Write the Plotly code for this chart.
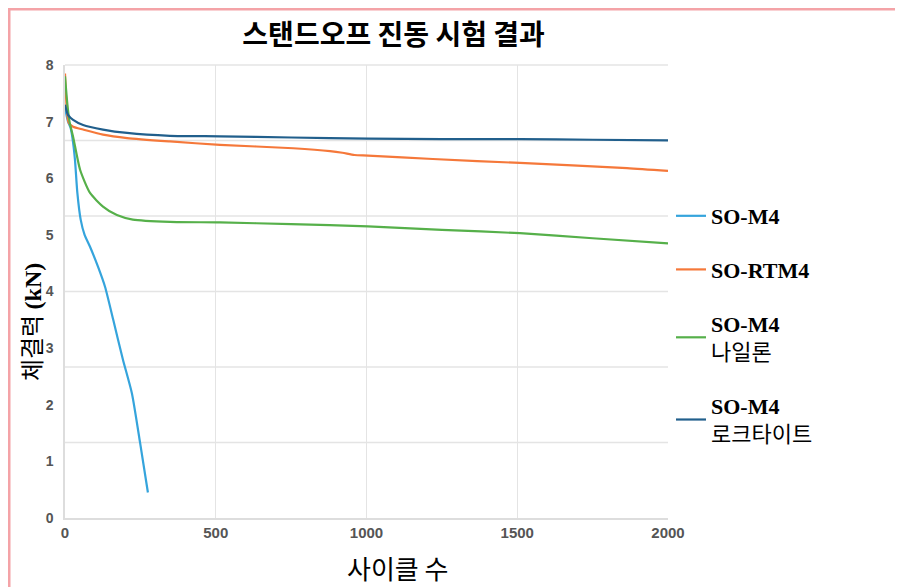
import plotly.graph_objects as go

# ---- data ----
cycles_m4 = [0, 10, 18, 25, 33, 41, 52, 65, 83, 110, 133, 160, 192, 222, 249, 275]
force_m4 = [7.25, 7.0, 6.9, 6.7, 6.33, 5.74, 5.27, 5.0, 4.79, 4.43, 4.08, 3.5, 2.8, 2.2, 1.33, 0.45]

cycles_rtm4 = [0, 5, 12, 27, 60, 126, 206, 348, 514, 757, 879, 920, 960, 1005, 1220, 1509, 1864, 2000]
force_rtm4 = [7.85, 7.3, 6.98, 6.91, 6.86, 6.77, 6.71, 6.65, 6.59, 6.53, 6.48, 6.45, 6.41, 6.40, 6.34, 6.27, 6.18, 6.13]

cycles_nylon = [0, 8, 15, 27, 50, 83, 126, 172, 225, 348, 514, 750, 1005, 1250, 1509, 1750, 2000]
force_nylon = [7.8, 7.3, 7.0, 6.73, 6.15, 5.74, 5.5, 5.35, 5.27, 5.23, 5.22, 5.19, 5.15, 5.09, 5.03, 4.94, 4.85]

cycles_loctite = [0, 10, 27, 60, 126, 206, 348, 514, 750, 1005, 1250, 1509, 1750, 2000]
force_loctite = [7.3, 7.12, 7.03, 6.94, 6.86, 6.80, 6.75, 6.74, 6.72, 6.70, 6.69, 6.69, 6.68, 6.67]

KR = "<span style='font-family:Noto Sans CJK KR'>{}</span>"
series_names = ["<b>SO-M4</b>", "<b>SO-RTM4</b>",
                "<b>SO-M4</b><br>" + KR.format("나일론"),
                "<b>SO-M4</b><br>" + KR.format("로크타이트")]
series_colors = ["#35a4dc", "#f5783a", "#56b04a", "#215f8c"]

x_ticks = [0, 500, 1000, 1500, 2000]
y_ticks = [0, 1, 2, 3, 4, 5, 6, 7, 8]
grid_divisions = 6

title_text = "스탠드오프 진동 시험 결과"
x_title = "사이클 수"
y_title = "체결력 <span style='font-family:Liberation Serif'><b>(kN)</b></span>"

series = [
    (cycles_m4, force_m4),
    (cycles_rtm4, force_rtm4),
    (cycles_nylon, force_nylon),
    (cycles_loctite, force_loctite),
]

fig = go.Figure()
for i, ((xs, ys), name, color) in enumerate(zip(series, series_names, series_colors)):
    fig.add_trace(go.Scatter(
        x=xs, y=ys, mode="lines", name=name,
        line=dict(color=color, width=2.2, shape="spline", smoothing=0.6),
        legendgroup=f"g{i}",
    ))

# horizontal grid lines (6 divisions, independent from tick labels as in original)
shapes = []
for k in range(1, grid_divisions + 1):
    shapes.append(dict(type="line", xref="x domain", yref="y domain",
                       x0=0, x1=1, y0=k / grid_divisions, y1=k / grid_divisions,
                       line=dict(color="#e4e4e4", width=1.3), layer="below"))
# pink frame lines of the original image
shapes.append(dict(type="line", xref="paper", yref="paper",
                   x0=-0.0945, x1=1.45, y0=1.1258, y1=1.1258,
                   line=dict(color="#f4a3a7", width=5)))
shapes.append(dict(type="line", xref="paper", yref="paper",
                   x0=-0.0945, x1=-0.0945, y0=1.1258, y1=-0.2,
                   line=dict(color="#f4a3a7", width=5)))

annotations = [
    dict(text=x_title, xref="paper", yref="paper", x=0.552, y=-0.11, xanchor="center",
         yanchor="middle", showarrow=False,
         font=dict(family="Noto Sans CJK KR", size=26, color="black")),
    dict(text=y_title, xref="paper", yref="paper", x=-0.056, y=0.433, xanchor="center",
         yanchor="middle", showarrow=False, textangle=-90,
         font=dict(family="Noto Sans CJK KR, Liberation Serif", size=24, color="black")),
]

fig.update_layout(
    width=903, height=587,
    margin=dict(l=57, r=243, t=57, b=77),
    paper_bgcolor="white", plot_bgcolor="white",
    title=dict(text=title_text, x=0.427, xanchor="center", y=0.953, yanchor="middle",
               font=dict(family="Noto Sans CJK KR", size=28, color="black", weight="bold")),
    showlegend=True,
    legend=dict(x=1.005, xanchor="left", y=0.713, yanchor="top",
                font=dict(family="Liberation Serif, Noto Sans CJK KR", size=22, color="black"),
                tracegroupgap=22, itemwidth=30, bgcolor="rgba(0,0,0,0)"),
    shapes=shapes,
    annotations=annotations,
    xaxis=dict(range=[0, 2000], tickvals=x_ticks, showgrid=True, gridcolor="#e4e4e4",
               gridwidth=1.3, zeroline=False, showline=True, linecolor="#dddddd", linewidth=1.5,
               ticks="", automargin=False,
               tickfont=dict(family="Liberation Sans", size=15, color="#555", weight="bold")),
    yaxis=dict(range=[0, 8], tickvals=y_ticks, showgrid=False, zeroline=False,
               showline=True, linecolor="#dddddd", linewidth=1.5, ticks="",
               ticklabelstandoff=7, automargin=False,
               tickfont=dict(family="Liberation Sans", size=14, color="#555", weight="bold")),
)

fig.write_html("out.html")
